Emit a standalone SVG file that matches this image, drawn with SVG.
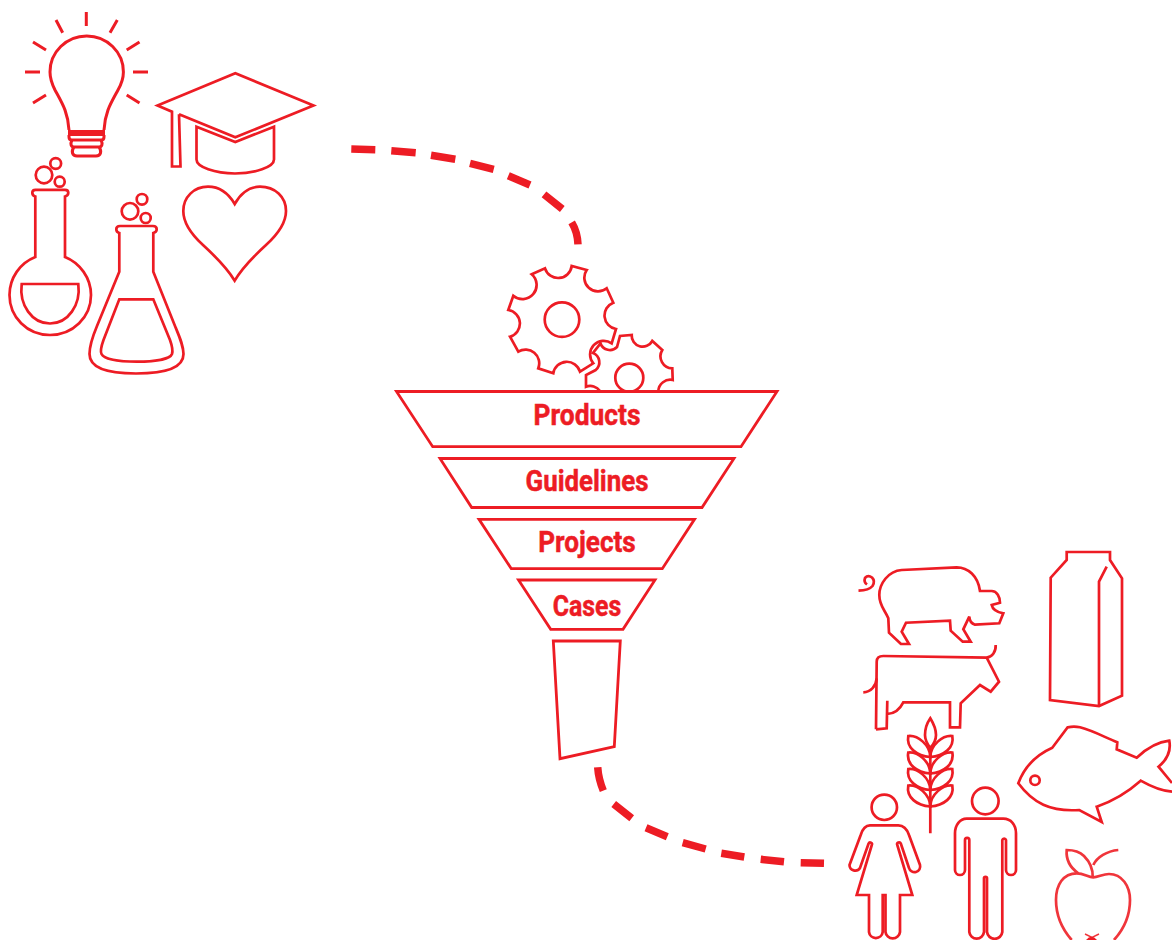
<svg xmlns="http://www.w3.org/2000/svg" xmlns:xlink="http://www.w3.org/1999/xlink" width="1172" height="940" viewBox="0 0 1172 940">
<style>
.l{fill:none;stroke:#ED1C24;stroke-width:2.7;stroke-linejoin:miter;stroke-linecap:butt}
.f{fill:#fff;stroke:#ED1C24;stroke-width:2.8}
.d{fill:none;stroke:#ED1C24;stroke-width:7.5}
.t{fill:#ED1C24;stroke:#ED1C24;stroke-width:.5;font-family:"Roboto","Liberation Sans",sans-serif;font-weight:700;font-size:29px}
</style>
<defs>
<path id="leaf" d="M908.300 736C918 735 930 745 930.300 757C917 756 906 748 908.300 736Z"/>
</defs>
<rect width="1172" height="940" fill="#fff"/>
<g id="connectors">
<path class="d" d="M351.300 149L375.300 149.700M391.300 150.700L415.700 152.700M431 155.300L455.300 159.300M470 163.300L493.700 169.300M508.300 175.700L530 185M544 194.300L562.300 209M571.700 222.300Q577.500 232 578 244.300"/>
<path class="d" d="M597.700 767.300Q598.500 779 603.300 790.700M613.700 804L631.700 818.300M646 827.700L667.300 836.700M682.700 842.700L705.700 849M721.300 853.300L744.300 857M760.700 859.300L784 861.700M800.700 862.700L824 863.300"/>
</g>
<g id="bulb">
<path class="l" style="stroke-width:3" d="M69 130C68 112 62 103 55 90C51 82 50 77 50 72A36.700 36 0 0 1 123.400 72C123.400 78 122 83 118 90C111 103 105 112 104 130"/>
<path d="M68 130H105V136H68Z" fill="#ED1C24"/>
<path class="l" style="stroke-width:3" d="M69 135V137C69 139 70 140 72 140H101C103 140 104 139 104 137V135M72 140C70 144 71 147 74 147H99C102 147 103 144 101 140M74 147C71 151 72 156 77 156H96C101 156 102 151 99 147"/>
<path class="l" style="stroke-width:3" d="M86.300 12V26M56 20L62.700 32.700M117.300 20L110 32.700M33 42L46 50M139.500 42L126.700 50M25 72H40M133 72H148M33 103L46 95M139.500 103L126.700 95"/>
</g>
<g id="cap">
<path class="l" d="M179 114.300L235.300 137.300L313.500 105.500L235.300 73.300L157.500 105.500L172 111.700V166.500H180.500L179 114.300"/>
<path class="l" d="M196.500 126.700L235.300 142L274 126.700V159.500C274 167 255 173.500 235 173.500C215 173.500 196.500 167 196.500 159.500Z"/>
</g>
<g id="heart">
<path class="l" d="M234.700 204C227 191 217 186.700 208 186.700C194 186.700 183.300 197 183.300 211C183.300 224 192 235 203 245C215 256 227 268 234.700 280.700C242 268 254 256 266 245C277 235 286 224 286 211C286 197 275 186.700 260 186.700C251 186.700 242 191 234.700 204Z"/>
</g>
<g id="flask-round">
<circle class="l" cx="44" cy="175" r="8.300"/><circle class="l" cx="55.700" cy="163.500" r="5.400"/><circle class="l" cx="59.700" cy="181.700" r="5"/>
<path class="l" d="M35.300 196.500V257C20 263 9.500 278 9.500 295C9.500 317 27 335 50 335C73 335 91 317 91 295C91 278 80 263 65 257V196.500C67 196 68.300 194.500 68.300 192.800C68.300 191 67 189.800 65 189.800H35.500C33.500 189.800 32.300 191 32.300 192.800C32.300 194.500 33.500 196 35.300 196.500Z"/>
<path class="l" d="M21.700 284H78.300C81 305 68 323.500 50 323.500C32 323.500 19 305 21.700 284Z"/>
</g>
<g id="flask-conical">
<circle class="l" cx="130" cy="211.300" r="8.300"/><circle class="l" cx="142" cy="199.300" r="5.300"/><circle class="l" cx="145.700" cy="218" r="5"/>
<path class="l" d="M119.300 233V271.700L97 326C92 338 89.500 346 89.500 354C89.500 368 108 373.500 136 373.500C164 373.500 183.500 368 183.500 354C183.500 346 180 338 175 326L153.300 271.700V233C155.500 232.500 156.700 231 156.700 229.300C156.700 227.500 155.500 226 153 226H120C117.500 226 116.300 227.500 116.300 229.300C116.300 231 117.500 232.500 119.300 233Z"/>
<path class="l" d="M119.300 299.300H153.300L170 340C172.500 347 173 351 172 354C170 359 155 361.700 136.700 361.700C118 361.700 104 359 101.500 354C100 351 101 347 103.500 340Z"/>
</g>
<g id="gear-large">
<path class="l" d="M531.700 274.300L545 268.300A13.700 13.700 0 0 0 571.700 266L586.700 270A13.700 13.700 0 0 0 606.700 288.300L613.300 302.700A13.700 13.700 0 0 0 616 329L611.700 343.300A13.700 13.700 0 0 0 593.300 363.300L580 371.700A13.700 13.700 0 0 0 553.300 373.300L538.300 368.300A13.700 13.700 0 0 0 518.300 351.700L510 336.700A13.700 13.700 0 0 0 508.300 310L513.300 295.700A13.700 13.700 0 0 0 531.700 274.300Z"/>
<circle class="l" cx="562" cy="319.600" r="17.300"/>
</g>
<g id="gear-small">
<path class="l" d="M600 391A12 12 0 0 0 586 386.700V375L595.700 370A10 10 0 0 0 593 353L600.500 343.500A10 10 0 0 0 617 347L620 336L631.700 335A11 11 0 0 0 652.300 341L662.300 350A12 12 0 0 0 672.300 368.300L672.700 380A12 12 0 0 0 658.300 391"/>
<circle class="l" cx="629.300" cy="377.700" r="14"/>
</g>
<g id="funnel-products">
<path class="f" d="M396.500 391.500H777L741 446.700H432.700Z"/>
<text class="t" x="587" y="425" text-anchor="middle" textLength="107" lengthAdjust="spacingAndGlyphs">Products</text>
</g>
<g id="funnel-guidelines">
<path class="f" d="M440 458.500H734L702 507.500H471.700Z"/>
<text class="t" x="587" y="490.700" text-anchor="middle" textLength="123" lengthAdjust="spacingAndGlyphs">Guidelines</text>
</g>
<g id="funnel-projects">
<path class="f" d="M479 519.300H694.500L662.300 568.700H511.300Z"/>
<text class="t" x="587" y="551.700" text-anchor="middle" textLength="97.500" lengthAdjust="spacingAndGlyphs">Projects</text>
</g>
<g id="funnel-cases">
<path class="f" d="M518.500 580H655L623 629.300H550.700Z"/>
<text class="t" x="587" y="616" text-anchor="middle" textLength="68.500" lengthAdjust="spacingAndGlyphs">Cases</text>
</g>
<g id="funnel-spout">
<path class="f" d="M553.300 641H620.300L614.300 746.700L560 758.700Z"/>
</g>
<g id="pig">
<path class="l" d="M858.500 590.700Q869 590.300 872.500 586Q875.500 581 872 577.500Q868 574.500 865 578Q863.500 582 867 584.500"/>
<path class="l" d="M901 644L889 632.700L888.300 618.300C885 610 879.300 606 879.300 595C879.300 584 888 571 901.700 570L956.700 567.300C968 567.300 978 576 980 591H991.700C997 591 1000 597 1000 602.700L991.700 605C992.500 609 996 612 1003.300 613.300L999.300 623.300L975 624.700C971 623.500 969.500 620 969.300 616.700L963.300 629.300L970.700 641.700H962.700L950.700 630.700L950 620.700L906 622.700L901.700 631.700L909 644Z"/>
</g>
<g id="cow">
<path class="l" d="M876 729.300L886.700 728.300L887.300 700.700M887.300 714C895 713.500 900 709 903.300 702.300H950V727.300H960L960.700 703.300L980 685L990.700 691.700L999 681.700L986.700 657.700L883.300 656C879 656 876.700 658 876.700 661.700L876 729.300"/>
<path class="l" d="M986.700 657.700C992 657 996 652 995.700 645M876.700 678.300C876 686 871 692 863.300 692.300"/>
</g>
<g id="milk">
<path class="l" d="M1066.700 552H1110V560L1122 578.300V695.700L1099 706L1050 700L1050.700 577.700L1066.700 560Z"/>
<path class="l" d="M1099 706V581.700L1106.700 566.700"/>
</g>
<g id="fish">
<path class="l" d="M1172 791.700C1160 791 1150 786 1140.700 780.700C1128 792 1113 801 1096.700 806.700L1101.700 822L1079.300 810C1050 812 1033 803 1018.300 783.300C1024 768 1036 755 1052.300 747.700L1067.700 727.300C1072 726.500 1076 726.500 1080 727.300C1094 731 1104 737 1117.300 742.300L1116.700 749.300L1136.700 757.700C1146 749 1157 742 1169.300 740.700C1171 750 1168 759 1158.500 766.700L1172 783"/>
<circle class="l" cx="1035" cy="780.300" r="4.700"/>
</g>
<g id="wheat">
<path class="l" d="M930.300 718.300C925 726 925 733 925 735C925 741 928 745 930.300 748C933 745 936 741 936 735C936 733 935 726 930.300 718.300ZM930.300 748V833.300"/>
<use href="#leaf" class="l"/><use href="#leaf" class="l" transform="translate(0 16.500)"/><use href="#leaf" class="l" transform="translate(0 33)"/><use href="#leaf" class="l" transform="translate(0 49.500)"/>
<use href="#leaf" class="l" transform="translate(1860.600 0) scale(-1 1)"/><use href="#leaf" class="l" transform="translate(1860.600 16.500) scale(-1 1)"/><use href="#leaf" class="l" transform="translate(1860.600 33) scale(-1 1)"/><use href="#leaf" class="l" transform="translate(1860.600 49.500) scale(-1 1)"/>
</g>
<g id="woman">
<circle class="l" cx="884.300" cy="807.300" r="12.700"/>
<path class="l" d="M869 895H856.700L871.800 845A1.700 1.700 0 0 0 868.600 843.500L860 868A5.700 5.700 0 0 1 849.500 865L860.700 835C862.500 829 866 825.300 870 825.300H898.300C903 825.300 907 829 909 835L920 865A5.700 5.700 0 0 1 909 868L900.800 843.500A1.700 1.700 0 0 0 897.300 845L912.300 895H900V932A7.300 7.300 0 0 1 885.500 932V895H882.700V932A6.900 6.900 0 0 1 869 932Z"/>
</g>
<g id="man">
<circle class="l" cx="985.300" cy="801" r="13.300"/>
<path class="l" d="M966.700 818.700H1003.300C1011 818.700 1016 825 1016 833.300V870A5 5 0 0 1 1006 870V840A1.900 1.900 0 0 0 1002.300 840V932A7.700 7.700 0 0 1 987 932V878.300A1.500 1.500 0 0 0 984 878.300V932A7.400 7.400 0 0 1 969.300 932V840A2.150 2.150 0 0 0 965 840V870A5 5 0 0 1 955 870V833.300C955 825 960 818.700 966.700 818.700Z"/>
</g>
<g id="apple">
<path class="l" style="stroke:#F0353B" d="M1071.700 940C1063 930 1056 917 1056 900C1056 885 1063 873.300 1077 873.300C1084 873.300 1088 877.300 1093.300 877.300C1098 877.300 1103 874 1109 874C1122 874 1130 886 1130 900C1130 917 1123 930 1114 940"/>
<path class="l" style="stroke:#F0353B" d="M1092.700 877C1093 868 1090 862 1084 856C1079 851 1073 850 1066.700 850C1066 858 1068 866 1078.300 873.300M1093.300 865C1097 857 1107 851 1118.300 850"/>
<path class="l" style="stroke:#F0353B;stroke-width:1.500" d="M1085 934L1092 937.500L1099 934"/>
<path d="M1086 940Q1091.500 933.500 1097 940Z" fill="#ED1C24"/>
</g>
</svg>
